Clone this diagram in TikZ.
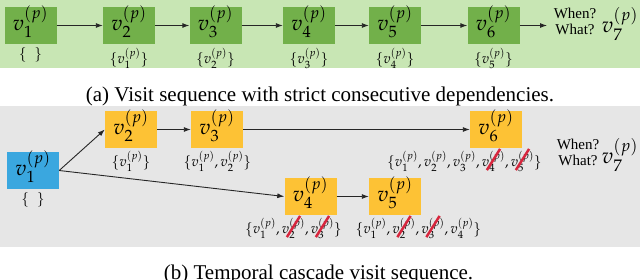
\documentclass[tikz,border=0pt]{standalone}
\usepackage{mathpazo}
\usepackage{fontspec}
\setmainfont{Liberation Serif}
\usepackage{graphicx}
\usetikzlibrary{arrows.meta}
\definecolor{bggreen}{HTML}{C8E6B4}
\definecolor{boxgreen}{HTML}{72B04A}
\definecolor{bggray}{HTML}{E6E6E6}
\definecolor{boxorange}{HTML}{FDC235}
\definecolor{boxblue}{HTML}{3AA7DF}
\definecolor{strikered}{HTML}{D7263D}
\newcommand{\vp}[1]{v^{(p)}_{#1}}
\newcommand{\strk}[1]{\mbox{\ooalign{$#1$\cr\hidewidth\raisebox{-4pt}{\rotatebox{58}{\textcolor{strikered}{\rule{25pt}{2.5pt}}}}\hidewidth\cr}}}
\begin{document}
\begin{tikzpicture}[x=1pt,y=-1pt,
  box/.style={minimum width=52pt, minimum height=37pt, inner sep=0pt, text height=18pt, text depth=8pt, font=\fontsize{21.5}{25}\selectfont},
  lbl/.style={font=\fontsize{14}{17}\selectfont, inner sep=0pt, anchor=north},
  qtxt/.style={font=\fontsize{15}{16}\selectfont, align=center, inner sep=0pt},
  big/.style={font=\fontsize{22}{26}\selectfont, inner sep=0pt},
  captxt/.style={font=\fontsize{21}{25}\selectfont, inner sep=0pt, anchor=base},
  arr/.style={-{Latex[length=7pt,width=5pt]}, line width=0.9pt, draw=black!85}]
\useasboundingbox (0,0) rectangle (640,279);
\fill[bggreen] (0,0) rectangle (640,68);
\fill[bggray] (0,106) rectangle (640,247);
% (a)
\node[box,fill=boxgreen] (a1) at (30.5,25.5) {$\vp1$};
\node[box,fill=boxgreen] (a2) at (129,25.5) {$\vp2$};
\node[box,fill=boxgreen] (a3) at (215.5,25.5) {$\vp3$};
\node[box,fill=boxgreen] (a4) at (309,25.5) {$\vp4$};
\node[box,fill=boxgreen] (a5) at (395,25.5) {$\vp5$};
\node[box,fill=boxgreen] (a6) at (493.5,25.5) {$\vp6$};
\coordinate (aend) at (547,25.5);
\node[qtxt] (aq) at (575,21) {When?\\What?};
\node[big] (a7) at (620,24) {$\vp7$};
\node[lbl] (la1) at (30.5,47.5) {$\{\;\;\}$};
\node[lbl] (la2) at (129,47.5) {$\{\vp1\}$};
\node[lbl] (la3) at (215.5,47.5) {$\{\vp2\}$};
\node[lbl] (la4) at (309,47.5) {$\{\vp3\}$};
\node[lbl] (la5) at (395,47.5) {$\{\vp4\}$};
\node[lbl] (la6) at (493.5,47.5) {$\{\vp5\}$};
\draw[arr] (a1) -- (a2);
\draw[arr] (a2) -- (a3);
\draw[arr] (a3) -- (a4);
\draw[arr] (a4) -- (a5);
\draw[arr] (a5) -- (a6);
\draw[arr] (a6) -- (aend);
\node[captxt] (capa) at (320,101) {(a) Visit sequence with strict consecutive dependencies.};
% (b)
\node[box,fill=boxblue] (b1) at (33,170.5) {$\vp1$};
\node[box,fill=boxorange] (b2) at (131,129.5) {$\vp2$};
\node[box,fill=boxorange] (b3) at (217,129.5) {$\vp3$};
\node[box,fill=boxorange] (b6) at (496,129.5) {$\vp6$};
\node[box,fill=boxorange] (b4) at (310.5,196.5) {$\vp4$};
\node[box,fill=boxorange] (b5) at (395,196.5) {$\vp5$};
\node[qtxt] (bq) at (578,152) {When?\\What?};
\node[big] (b7) at (620,155) {$\vp7$};
\node[lbl] (lb1) at (33,192.5) {$\{\;\;\}$};
\node[lbl] (lb2) at (131,150.5) {$\{\vp1\}$};
\node[lbl] (lb3) at (217.5,150.5) {$\{\vp1,\vp2\}$};
\node[lbl] (lb6) at (464.5,150.5) {$\{\vp1,\vp2,\vp3,\strk{\vp4},\strk{\vp5}\}$};
\node[lbl] (lb4) at (293.5,217.5) {$\{\vp1,\strk{\vp2},\strk{\vp3}\}$};
\node[lbl] (lb5) at (418.5,217.5) {$\{\vp1,\strk{\vp2},\strk{\vp3},\vp4\}$};
\draw[arr] (b1.east) -- (b2.west);
\draw[arr] (b1.east) -- (b4.west);
\draw[arr] (b2) -- (b3);
\draw[arr] (b3) -- (b6);
\draw[arr] (b4) -- (b5);
\node[captxt] (capb) at (318.5,279) {(b) Temporal cascade visit sequence.};
\end{tikzpicture}
\end{document}
